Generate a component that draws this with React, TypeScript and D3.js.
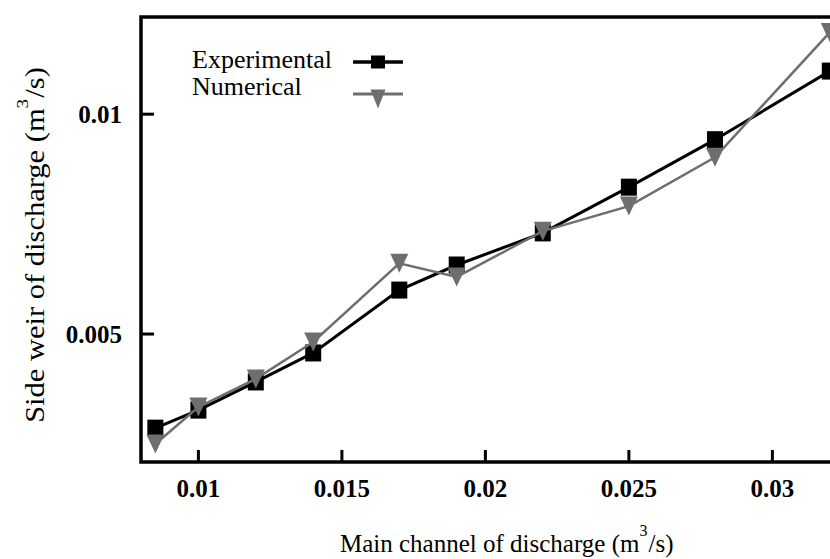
import * as d3 from 'd3';

type Point = { q: number; value: number };

// main channel discharge (m3/s)
const mainDischarge = [0.0085, 0.01, 0.012, 0.014, 0.017, 0.019, 0.022, 0.025, 0.028, 0.032];
// side weir discharge (m3/s)
const experimental = [0.00286, 0.00327, 0.00391, 0.00457, 0.006, 0.00657, 0.0073, 0.00834, 0.00942, 0.01098];
const numerical = [0.0025, 0.00334, 0.00398, 0.00482, 0.00661, 0.0063, 0.00734, 0.00791, 0.00902, 0.01186];

const xTicks = [0.01, 0.015, 0.02, 0.025, 0.03];
const yTicks = [0.005, 0.01];

const width = 830;
const height = 559;
const margin = { top: 17, right: -15, bottom: 97, left: 141 };
const serif = { fontFamily: 'Liberation Serif, Tinos, DejaVu Serif, serif' };

const App = () => {
    const x = d3
        .scaleLinear()
        .domain([0.008, 0.03253])
        .range([margin.left, width - margin.right]);

    const y = d3
        .scaleLinear()
        .domain([0.00209, 0.01221])
        .range([height - margin.bottom, margin.top]);

    const expData: Point[] = mainDischarge.map((q, i) => ({ q, value: experimental[i] }));
    const numData: Point[] = mainDischarge.map((q, i) => ({ q, value: numerical[i] }));

    const line = d3
        .line<Point>()
        .x((d) => x(d.q))
        .y((d) => y(d.value));

    const tri = (cx: number, cy: number, w: number, h: number) =>
        `M${cx - w / 2},${cy - h / 2}L${cx + w / 2},${cy - h / 2}L${cx},${cy + h / 2}Z`;

    const x0 = x.range()[0];
    const x1 = x.range()[1];
    const y0 = y.range()[0];
    const y1 = y.range()[1];

    return (
        <svg
            width={width}
            height={height}
            style={{ position: 'absolute', left: 0, top: 0, background: '#fff' }}
        >
            {/* frame */}
            <rect x={x0} y={y1} width={x1 - x0} height={y0 - y1} fill="none" stroke="#000" strokeWidth={3.5} />

            {/* x axis ticks */}
            {xTicks.map((t) => (
                <g key={t}>
                    <line x1={x(t)} x2={x(t)} y1={y0} y2={y0 - 12} stroke="#000" strokeWidth={3} />
                    <text x={x(t)} y={497} textAnchor="middle" style={serif} fontWeight="bold" fontSize={25}>
                        {t}
                    </text>
                </g>
            ))}

            {/* y axis ticks */}
            {yTicks.map((t) => (
                <g key={t}>
                    <line x1={x0} x2={x0 + 13} y1={y(t)} y2={y(t)} stroke="#000" strokeWidth={3} />
                    <text x={122} y={y(t) + 9} textAnchor="end" style={serif} fontWeight="bold" fontSize={25}>
                        {t}
                    </text>
                </g>
            ))}

            {/* experimental series */}
            <path d={line(expData) ?? ''} fill="none" stroke="#000" strokeWidth={3} />
            {expData.map((d) => (
                <rect key={d.q} x={x(d.q) - 8} y={y(d.value) - 8.5} width={16} height={17} fill="#000" />
            ))}

            {/* numerical series */}
            <path d={line(numData) ?? ''} fill="none" stroke="#6e6e6e" strokeWidth={2.5} />
            {numData.map((d) => (
                <path key={d.q} d={tri(x(d.q), y(d.value), 18, 19)} fill="#6e6e6e" />
            ))}

            {/* legend */}
            <text x={192} y={68} style={serif} fontSize={26}>
                Experimental
            </text>
            <line x1={353} x2={403} y1={62} y2={62} stroke="#000" strokeWidth={3.5} />
            <rect x={371} y={55.5} width={14} height={13} fill="#000" />
            <text x={192} y={95} style={serif} fontSize={26}>
                Numerical
            </text>
            <line x1={353} x2={403} y1={94} y2={94} stroke="#6e6e6e" strokeWidth={3} />
            <path d={tri(378, 99, 15, 19)} fill="#6e6e6e" />

            {/* axis titles */}
            <text x={340} y={552} style={serif} fontSize={25}>
                Main channel of discharge (m
                <tspan dx={0} dy={-16} fontSize={16}>
                    3
                </tspan>
                <tspan dx={1} dy={16}>/s)</tspan>
            </text>
            <text
                transform="translate(44,245) rotate(-90) scale(1.13,1)"
                textAnchor="middle"
                style={serif}
                fontSize={27}
            >
                Side weir of discharge (m
                <tspan dx={0} dy={-16} fontSize={17}>
                    3
                </tspan>
                <tspan dx={1} dy={16}>/s)</tspan>
            </text>
        </svg>
    );
};

export default App;
